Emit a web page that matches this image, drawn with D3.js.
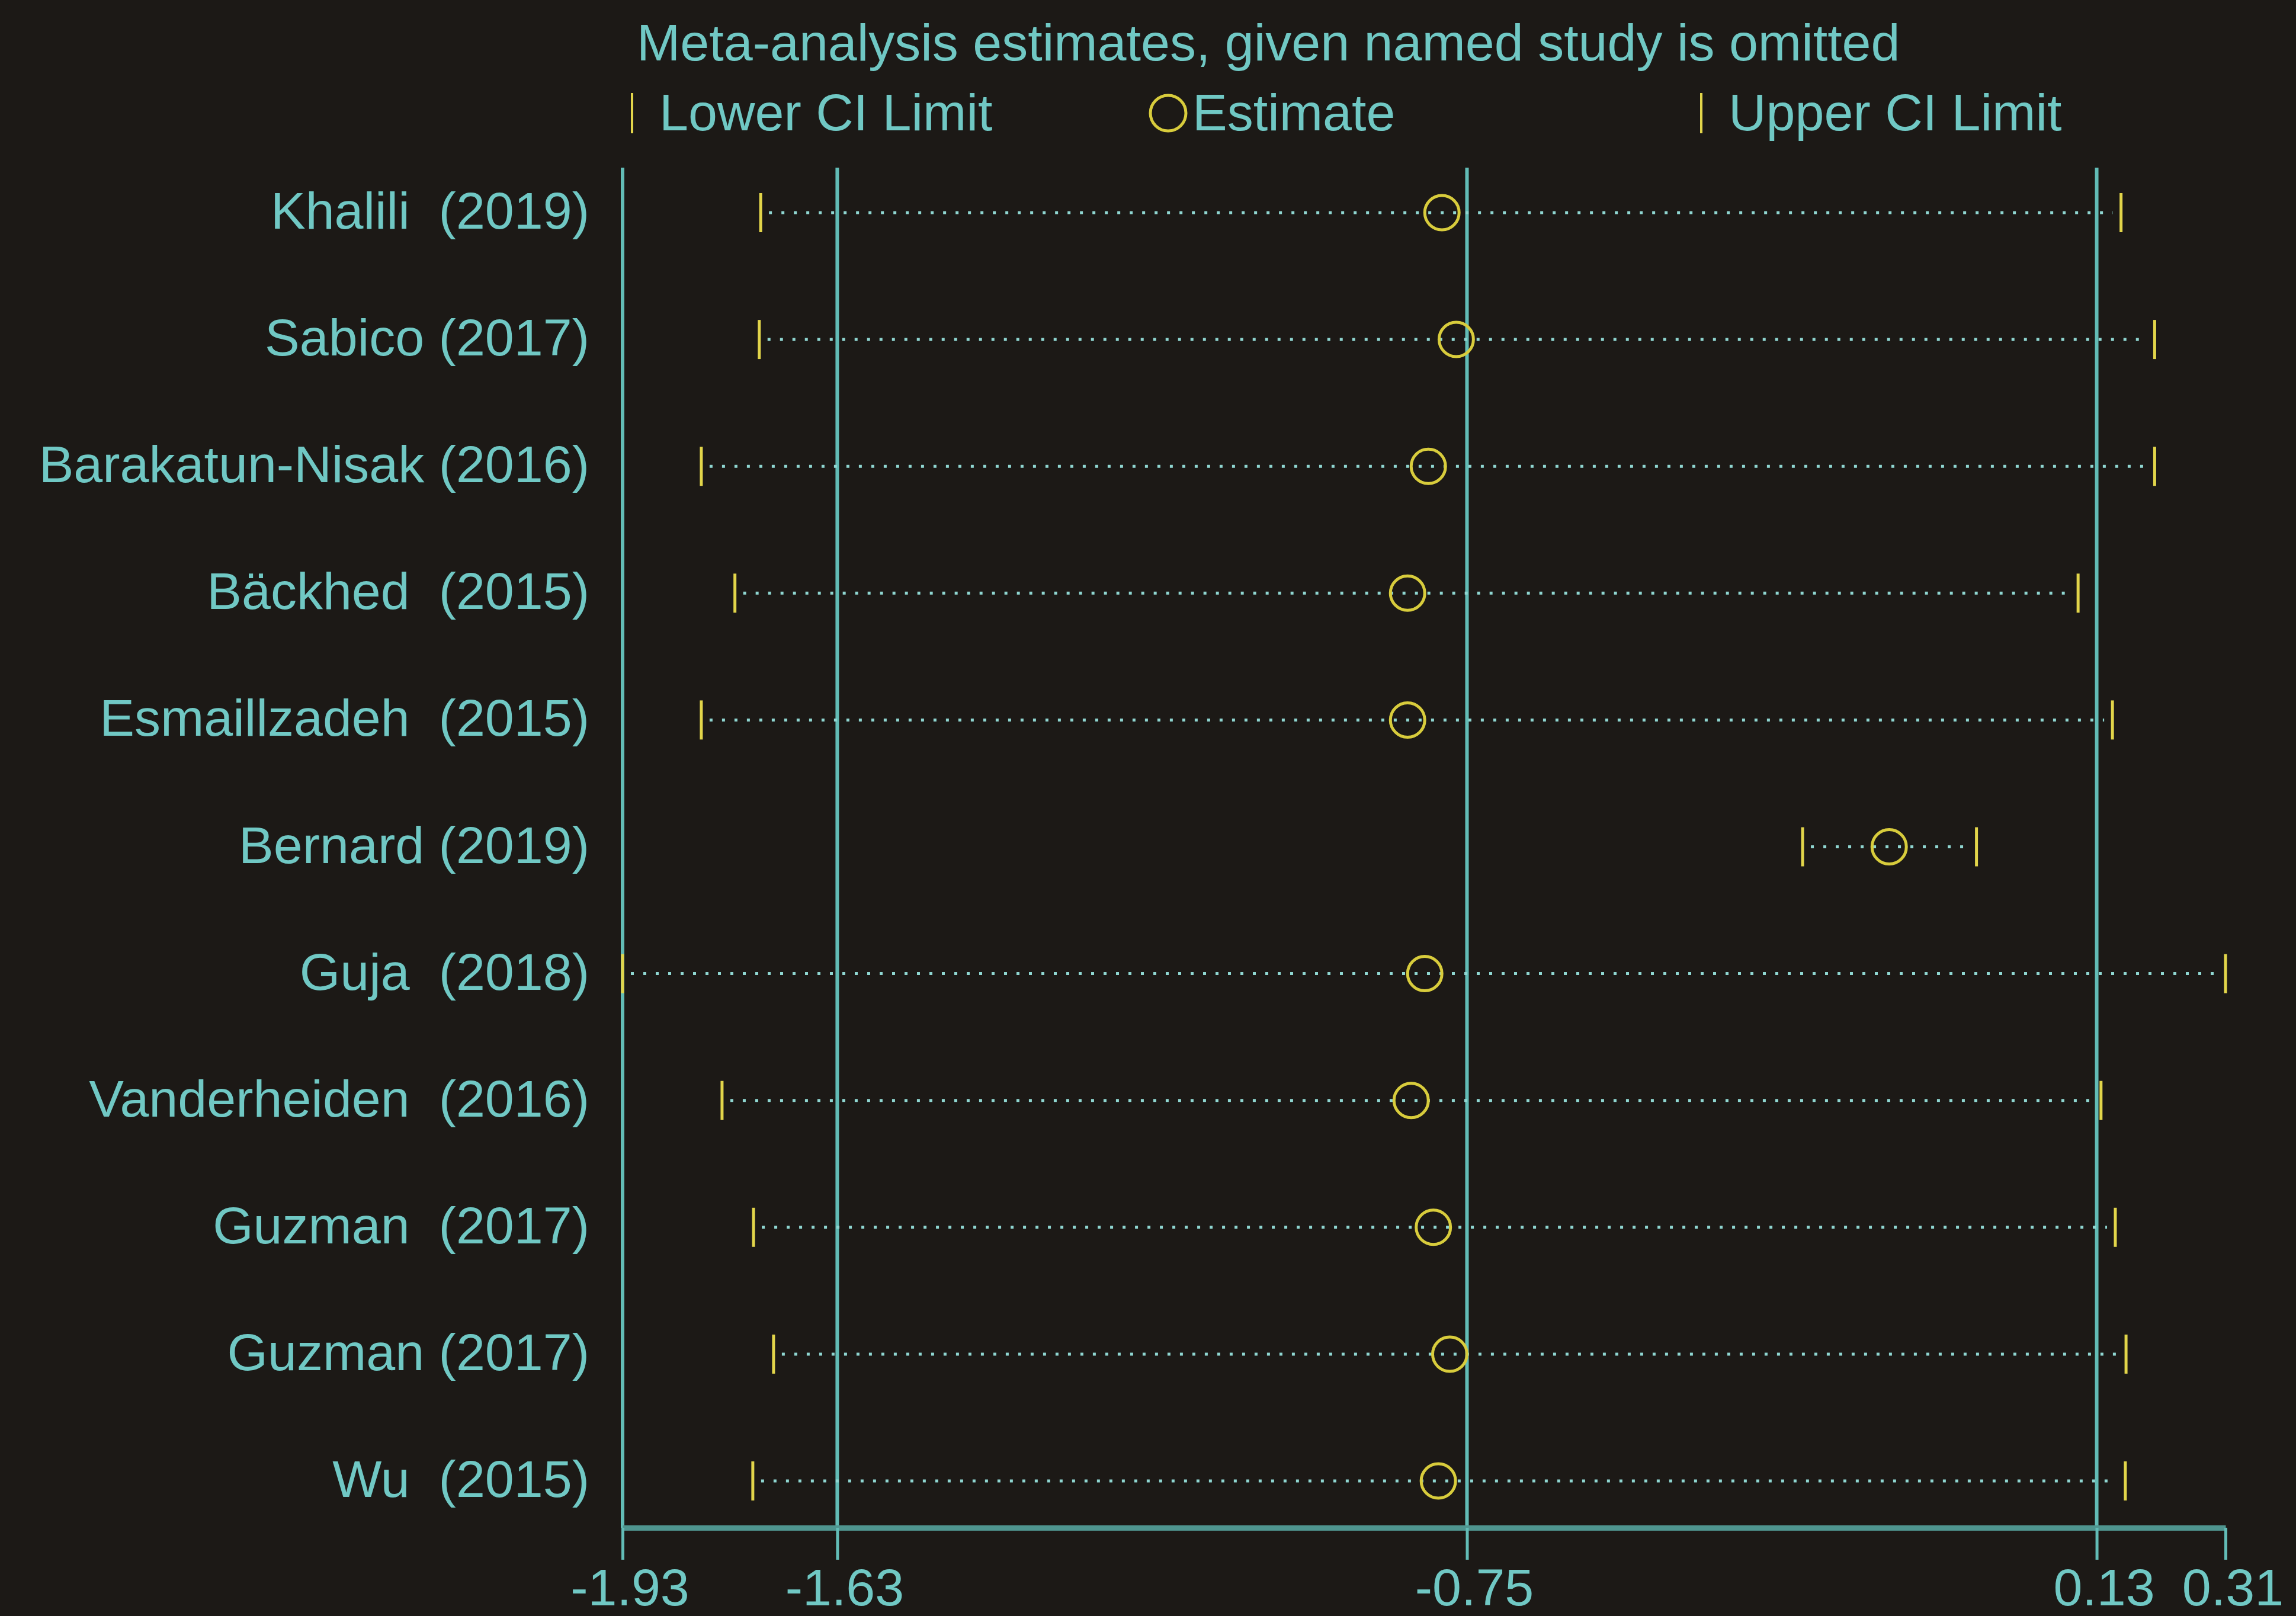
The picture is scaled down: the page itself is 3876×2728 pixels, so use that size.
<!DOCTYPE html>
<html>
<head>
<meta charset="utf-8">
<script src="https://cdn.jsdelivr.net/npm/d3@7"></script>
<style>
  html, body { margin: 0; padding: 0; background: #1c1916; }
  svg { display: block; }
  text { font-family: "Liberation Sans", Arial, sans-serif; white-space: pre; }
</style>
</head>
<body>
<svg id="chart" width="3876" height="2728"></svg>
<script>
// Leave-one-out sensitivity analysis: pooled estimate with each study omitted
const studies = [
  "Khalili  (2019)",
  "Sabico (2017)",
  "Barakatun-Nisak (2016)",
  "Bäckhed  (2015)",
  "Esmaillzadeh  (2015)",
  "Bernard (2019)",
  "Guja  (2018)",
  "Vanderheiden  (2016)",
  "Guzman  (2017)",
  "Guzman (2017)",
  "Wu  (2015)"
];
const lowerCI  = [-1.737, -1.739, -1.820, -1.773, -1.820, -0.281, -1.93, -1.791, -1.747, -1.719, -1.748];
const estimate = [-0.785, -0.765, -0.804, -0.833, -0.833, -0.160, -0.809, -0.828, -0.797, -0.774, -0.790];
const upperCI  = [0.164, 0.211, 0.211, 0.104, 0.152, -0.038, 0.31, 0.136, 0.156, 0.171, 0.170];

// Overall pooled estimate and its CI (reference lines), plus axis extremes
const refLines = [-1.93, -1.63, -0.75, 0.13];
const tickValues = [-1.93, -1.63, -0.75, 0.13, 0.31];
const tickLabels = ["-1.93", "-1.63", "-0.75", "0.13", "0.31"];

const titleText = "Meta-analysis estimates, given named study is omitted";
const legendLabels = ["Lower CI Limit", "Estimate", "Upper CI Limit"];

const TEXT = "#70c8c4";
const LINE = "#62bcb6";
const AXIS = "#4f958f";
const DOTS = "#8fd6d1";
const YELLOW = "#e2d54a";
const CIRCLE = "#d8cc3c";
const FS = 88;

const svg = d3.select("#chart");
svg.append("rect").attr("width", 3876).attr("height", 2728).attr("fill", "#1c1916");

const x = d3.scaleLinear().domain([-1.93, 0.31]).range([1051, 3757]);
const y = d3.scalePoint().domain(d3.range(studies.length)).range([359, 2500]);
const axisY = 2579;
const plotTop = 283;

// Title and legend
svg.append("text").attr("x", 1075).attr("y", 102)
  .attr("font-size", FS).attr("fill", TEXT).text(titleText);

const legY = 191;
svg.append("line").attr("x1", 1067).attr("x2", 1067).attr("y1", legY - 34).attr("y2", legY + 34)
  .attr("stroke", YELLOW).attr("stroke-width", 4);
svg.append("text").attr("x", 1113).attr("y", 220).attr("font-size", FS).attr("fill", TEXT).text(legendLabels[0]);
svg.append("circle").attr("cx", 1972).attr("cy", legY).attr("r", 30)
  .attr("fill", "none").attr("stroke", CIRCLE).attr("stroke-width", 5);
svg.append("text").attr("x", 2013).attr("y", 220).attr("font-size", FS).attr("fill", TEXT).text(legendLabels[1]);
svg.append("line").attr("x1", 2872).attr("x2", 2872).attr("y1", legY - 34).attr("y2", legY + 34)
  .attr("stroke", YELLOW).attr("stroke-width", 4);
svg.append("text").attr("x", 2918).attr("y", 220).attr("font-size", FS).attr("fill", TEXT).text(legendLabels[2]);

// Vertical reference lines
svg.append("g").selectAll("line").data(refLines).join("line")
  .attr("x1", d => x(d)).attr("x2", d => x(d))
  .attr("y1", plotTop).attr("y2", axisY)
  .attr("stroke", LINE).attr("stroke-width", 6);

// Bottom axis
const axis = d3.axisBottom(x)
  .tickValues(tickValues)
  .tickFormat((d, i) => tickLabels[i])
  .tickSize(54)
  .tickSizeOuter(0);
const gAxis = svg.append("g").attr("transform", `translate(0,${axisY})`).call(axis);
gAxis.select(".domain").attr("stroke", AXIS).attr("stroke-width", 9);
gAxis.selectAll(".tick line").attr("stroke", LINE).attr("stroke-width", 5);
gAxis.selectAll(".tick text")
  .attr("y", 131).attr("dy", null).attr("dx", 12)
  .attr("fill", TEXT).attr("font-size", FS)
  .attr("font-family", "Liberation Sans, Arial, sans-serif");

// Study labels
svg.append("g").selectAll("text").data(studies).join("text")
  .attr("x", 995).attr("y", (d, i) => y(i) + 27)
  .attr("text-anchor", "end").attr("font-size", FS).attr("fill", TEXT)
  .text(d => d);

const rows = studies.map((s, i) => ({ i, lo: lowerCI[i], est: estimate[i], hi: upperCI[i] }));
const gRows = svg.append("g");

// Dotted CI span
gRows.selectAll("line.span").data(rows).join("line").attr("class", "span")
  .attr("x1", d => x(d.lo) + 14).attr("x2", d => x(d.hi) - 14)
  .attr("y1", d => y(d.i)).attr("y2", d => y(d.i))
  .attr("stroke", DOTS).attr("stroke-width", 5)
  .attr("stroke-dasharray", "5 16");

// Lower / upper CI ticks
gRows.selectAll("line.lo").data(rows).join("line").attr("class", "lo")
  .attr("x1", d => x(d.lo)).attr("x2", d => x(d.lo))
  .attr("y1", d => y(d.i) - 33).attr("y2", d => y(d.i) + 33)
  .attr("stroke", YELLOW).attr("stroke-width", 5);
gRows.selectAll("line.hi").data(rows).join("line").attr("class", "hi")
  .attr("x1", d => x(d.hi)).attr("x2", d => x(d.hi))
  .attr("y1", d => y(d.i) - 33).attr("y2", d => y(d.i) + 33)
  .attr("stroke", YELLOW).attr("stroke-width", 5);

// Point estimates
gRows.selectAll("circle").data(rows).join("circle")
  .attr("cx", d => x(d.est)).attr("cy", d => y(d.i)).attr("r", 29)
  .attr("fill", "none").attr("stroke", CIRCLE).attr("stroke-width", 5);
</script>
</body>
</html>
